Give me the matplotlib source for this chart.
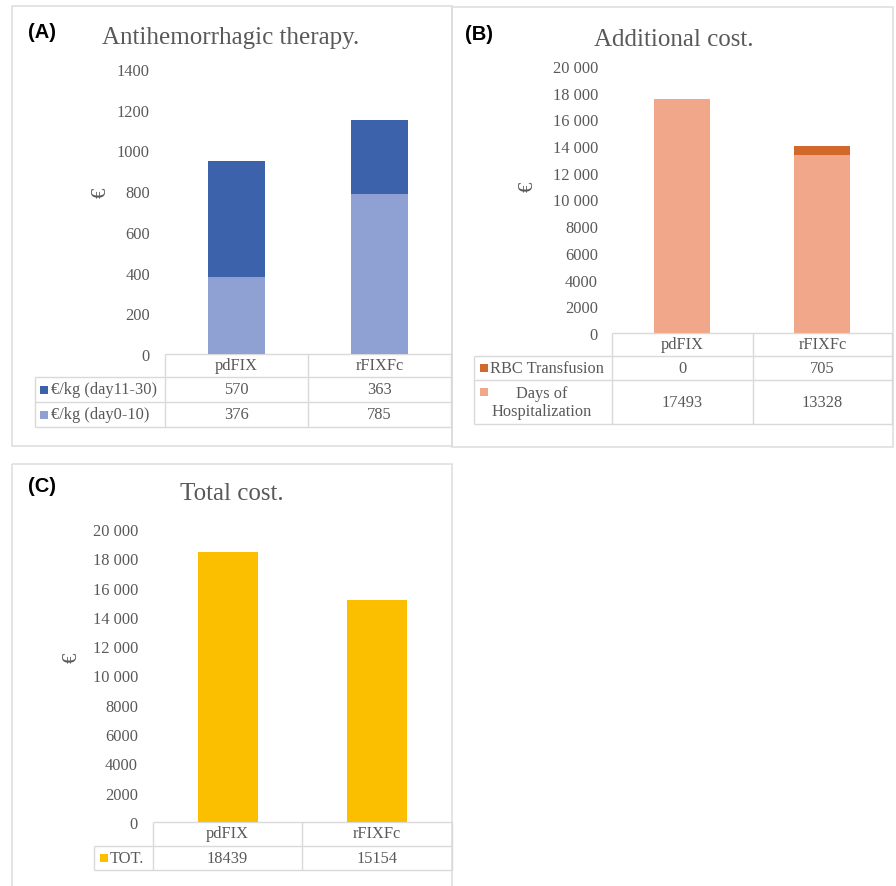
import matplotlib
matplotlib.use("Agg")
import matplotlib.pyplot as plt
from matplotlib.patches import Rectangle
from matplotlib.ticker import FuncFormatter

# ---- data ----
products = ["pdFIX", "rFIXFc"]

# (A) antihemorrhagic therapy, €/kg
a_series = ["€/kg (day11-30)", "€/kg (day0-10)"]
a_day0_10 = [376, 785]
a_day11_30 = [570, 363]

# (B) additional cost, €
b_series = ["RBC Transfusion", "Days of\nHospitalization"]
b_rbc = [0, 705]
b_hosp = [17493, 13328]

# (C) total cost, €
c_series = ["TOT."]
c_total = [18439, 15154]

a_ticks = [0, 200, 400, 600, 800, 1000, 1200, 1400]
bc_ticks = list(range(0, 20001, 2000))

# ---- style ----
W, H = 896, 887
PT = 100 / 72  # pixels per point at 100 dpi
SERIF = "Liberation Serif"
GREY = "#595959"
LINE = "#D9D9D9"
BORDER = "#DCDCDC"
FS = 11.8
A_DARK, A_LIGHT = "#3B62AA", "#8EA1D2"
B_DARK, B_LIGHT = "#D0692A", "#F0A78A"
C_GOLD = "#FBBF00"

fig = plt.figure(figsize=(W / 100, H / 100), dpi=100)
fig.patch.set_facecolor("white")

# pixel overlay for frames, tables and labels
ov = fig.add_axes([0, 0, 1, 1], zorder=0)
ov.set_xlim(0, W)
ov.set_ylim(H, 0)
ov.axis("off")


def axes_px(x0, y0, x1, y1):
    return fig.add_axes([x0 / W, 1 - y1 / H, (x1 - x0) / W, (y1 - y0) / H], zorder=2)


def hline(y, x0, x1, color=LINE):
    ov.plot([x0, x1], [y, y], color=color, lw=1.0, solid_capstyle="butt")


def vline(x, y0, y1, color=LINE):
    ov.plot([x, x], [y0, y1], color=color, lw=1.0, solid_capstyle="butt")


def frame(x0, y0, x1, y1):
    ov.add_patch(Rectangle((x0, y0), x1 - x0, y1 - y0, fill=False,
                           edgecolor=BORDER, lw=1.1))


def marker(x, y, color):
    ov.add_patch(Rectangle((x, y - 4), 8, 8, facecolor=color, edgecolor="none"))


def fmt_space(v, _pos=None):
    v = int(round(v))
    if v >= 10000:
        return f"{v:,}".replace(",", " ")
    return str(v)


def style_axes(ax, ymax, ticks, pad_px, formatter=None):
    ax.set_xlim(-0.5, 1.5)
    ax.set_ylim(0, ymax)
    ax.set_facecolor("none")
    for s in ax.spines.values():
        s.set_visible(False)
    ax.set_xticks([])
    ax.set_yticks(ticks)
    if formatter is not None:
        ax.yaxis.set_major_formatter(FuncFormatter(formatter))
    ax.tick_params(axis="y", length=0, pad=pad_px / PT, labelsize=FS,
                   labelcolor=GREY, labelfontfamily=SERIF)


def txt(x, y, s, size=FS, ha="center", **kw):
    ov.text(x, y, s, ha=ha, va="center", fontsize=size, color=GREY,
            family=SERIF, **kw)


def panel_tag(x, y, s):
    ov.text(x, y, s, ha="center", va="center", fontsize=14.5,
            fontweight="bold", family="Liberation Sans", color="black")


# ================= (A) =================
frame(12, 7, 452, 447)
panel_tag(42, 32, "(A)")
txt(231, 38, "Antihemorrhagic therapy.", size=18)
txt(101, 193, "€", size=15, rotation=90)

axA = axes_px(165, 70, 451, 355)
style_axes(axA, 1400, a_ticks, 15)
xs = range(len(products))
axA.bar(xs, a_day0_10, width=0.405, color=A_LIGHT)
axA.bar(xs, a_day11_30, width=0.405, bottom=a_day0_10, color=A_DARK)

# table (A)
hline(355, 165, 451); hline(378, 35, 451); hline(403, 35, 451); hline(428, 35, 451)
vline(35, 378, 428); vline(165, 355, 428); vline(308, 355, 428); vline(451, 355, 428)
a_cols = [236.5, 379.5]
for cx, name in zip(a_cols, products):
    txt(cx, 366, name)
for ry, vals, col, lab in [(390.5, a_day11_30, A_DARK, a_series[0]),
                           (415.5, a_day0_10, A_LIGHT, a_series[1])]:
    marker(40, ry, col)
    txt(51, ry, lab, ha="left")
    for cx, v in zip(a_cols, vals):
        txt(cx, ry, str(v))

# ================= (B) =================
frame(452, 8, 893, 448)
panel_tag(479, 34, "(B)")
txt(674, 40, "Additional cost.", size=18)
txt(528, 187, "€", size=15, rotation=90)

axB = axes_px(612, 67, 892, 334)
style_axes(axB, 20000, bc_ticks, 14, fmt_space)
axB.bar(xs, b_hosp, width=0.4, color=B_LIGHT)
axB.bar(xs, b_rbc, width=0.4, bottom=b_hosp, color=B_DARK)

hline(334, 612, 892); hline(357, 474, 892); hline(381, 474, 892); hline(425, 474, 892)
vline(474, 357, 425); vline(612, 334, 425); vline(753, 334, 425); vline(892, 334, 425)
b_cols = [682.5, 822.5]
for cx, name in zip(b_cols, products):
    txt(cx, 345, name)
marker(480, 369, B_DARK)
txt(490, 369, b_series[0], ha="left")
for cx, v in zip(b_cols, b_rbc):
    txt(cx, 369, str(v))
marker(480, 393, B_LIGHT)
txt(542, 403, b_series[1], linespacing=1.15)
for cx, v in zip(b_cols, b_hosp):
    txt(cx, 403, str(v))

# ================= (C) =================
frame(12, 465, 452, 900)
panel_tag(42, 487, "(C)")
txt(232, 494, "Total cost.", size=18)
txt(72, 658, "€", size=15, rotation=90)

axC = axes_px(153, 530, 452, 823)
style_axes(axC, 20000, bc_ticks, 15, fmt_space)
axC.bar(xs, c_total, width=0.4, color=C_GOLD)

hline(823, 153, 452); hline(847, 94, 452); hline(871, 94, 452)
vline(94, 847, 871); vline(153, 823, 871); vline(302, 823, 871); vline(452, 823, 871)
c_cols = [227.5, 377]
for cx, name in zip(c_cols, products):
    txt(cx, 834, name)
marker(100, 859, C_GOLD)
txt(110, 859, c_series[0], ha="left")
for cx, v in zip(c_cols, c_total):
    txt(cx, 859, str(v))

fig.savefig("out.png", dpi=100, facecolor="white")
